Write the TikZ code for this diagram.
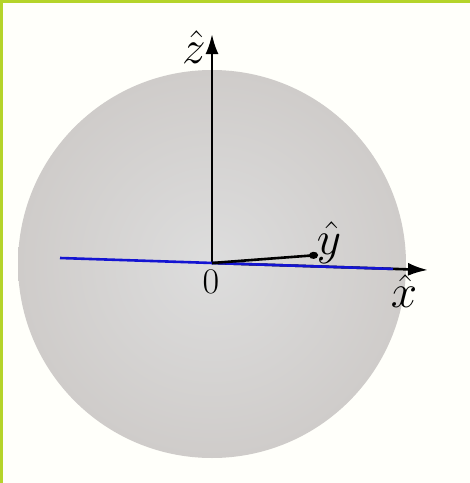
\documentclass[tikz,border=0pt]{standalone}
\usepackage{amsmath}
\usetikzlibrary{arrows.meta}
\definecolor{bordergreen}{RGB}{181,212,42}
\definecolor{spherecore}{RGB}{221,221,221}
\definecolor{sphereedge}{RGB}{207,204,202}
\definecolor{axisblue}{RGB}{20,20,210}

\begin{document}
\begin{tikzpicture}[x=1pt, y=-1pt,
    axis/.style={line width=2.6pt, -{Latex[length=20pt, width=13pt]}},
    hatlabel/.style={font=\Huge, scale=1.9, inner sep=0pt},
    origin/.style={font=\Huge, scale=1.45, inner sep=0pt}
]
\useasboundingbox (0,0) rectangle (470,483);
\fill[white!98!yellow] (0,0) rectangle (470,483);
\fill[bordergreen] (0,0) rectangle (470,3);
\fill[bordergreen] (0,0) rectangle (3,483);

% Sphere
\shade[inner color=spherecore, outer color=sphereedge] (212,264) circle[radius=194];

% Points
\coordinate (o) at (212,263);
\coordinate (ztip) at (212,34);
\coordinate (xtip) at (428,270);
\coordinate (xleft) at (60,258);
\coordinate (xblue) at (393,268.9);
\coordinate (yend) at (318,255);

% Axes
\draw[axis] (o) -- (ztip);
\draw[axis] (o) -- (xtip);
\draw[axisblue, line width=2.6pt] (xleft) -- (xblue);
\draw[line width=2.6pt, -{Circle[length=9pt, width=7pt]}] (o) -- (yend);

% Labels
\node[hatlabel] (zlab) at (194,47) {$\hat{z}$};
\node[hatlabel] (ylab) at (329,243) {$\hat{y}$};
\node[hatlabel] (xlab) at (404,291) {$\hat{x}$};
\node[origin] (olab) at (211,282) {$0$};

\end{tikzpicture}
\end{document}
